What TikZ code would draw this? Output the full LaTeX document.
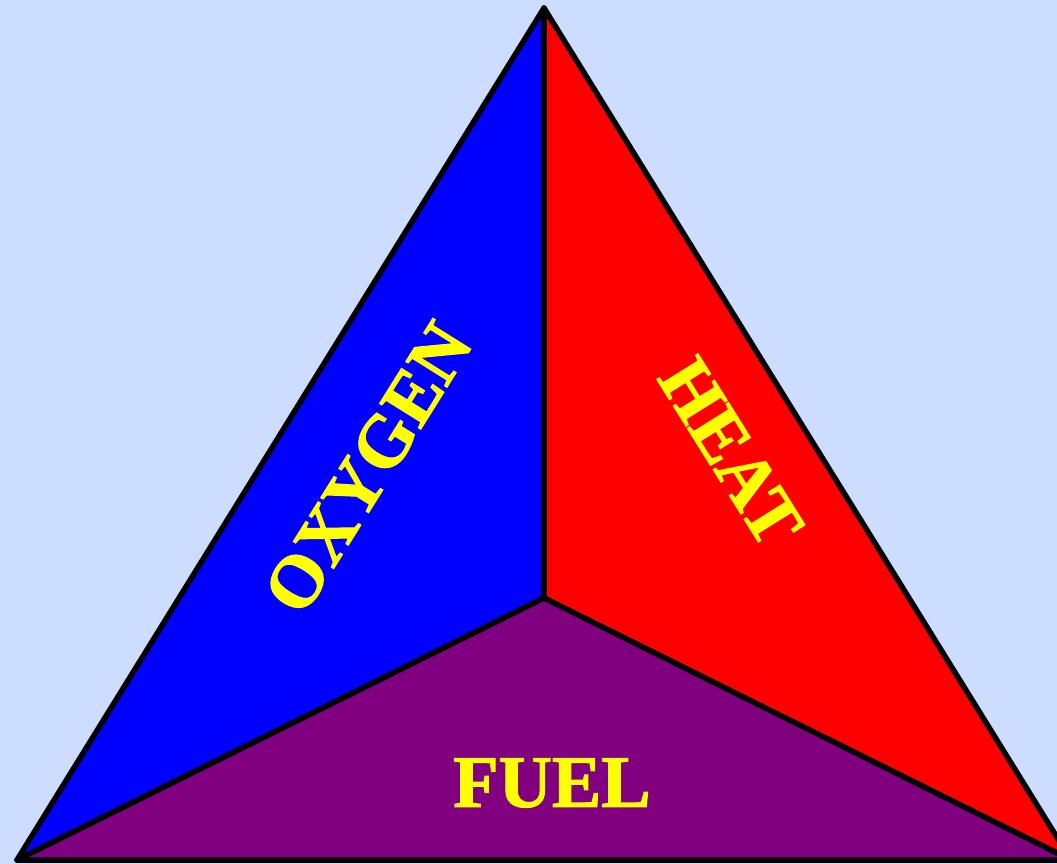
\documentclass[tikz,border=0pt]{standalone}
\usepackage{fontspec}
\setmainfont{Liberation Serif}
\newfontfamily\lblfont[BoldFont={Liberation Serif Bold}, BoldFeatures={FakeBold=1.6}]{Liberation Serif}
\definecolor{bg}{RGB}{204,221,255}
\definecolor{fuelc}{RGB}{128,0,128}
\definecolor{txt}{RGB}{255,255,0}
\tikzset{
  face/.style={draw=black, line width=5.5pt, line join=round},
  lbl/.style={text=txt, font=\lblfont\fontsize{74}{74}\selectfont\bfseries, inner sep=0pt}
}
\begin{document}
\begin{tikzpicture}[x=1pt, y=-1pt]
\fill[bg] (0,0) rectangle (1057,864);
\useasboundingbox (0,0) rectangle (1057,864);
\clip (0,0) rectangle (1057,864);
\coordinate (T) at (544,8);
\coordinate (L) at (17,860);
\coordinate (R) at (1071,860);
\coordinate (C) at (544,598);
\filldraw[face, fill=blue] (T) -- (C) -- (L) -- cycle;
\filldraw[face, fill=red] (T) -- (R) -- (C) -- cycle;
\filldraw[face, fill=fuelc] (L) -- (C) -- (R) -- cycle;
\node[lbl, rotate=58] (oxy) at (368,468) {OXYGEN};
\node[lbl, rotate=-58] (heat) at (731,452) {HEAT};
\node[lbl] (fuel) at (552,783) {FUEL};
\end{tikzpicture}
\end{document}
